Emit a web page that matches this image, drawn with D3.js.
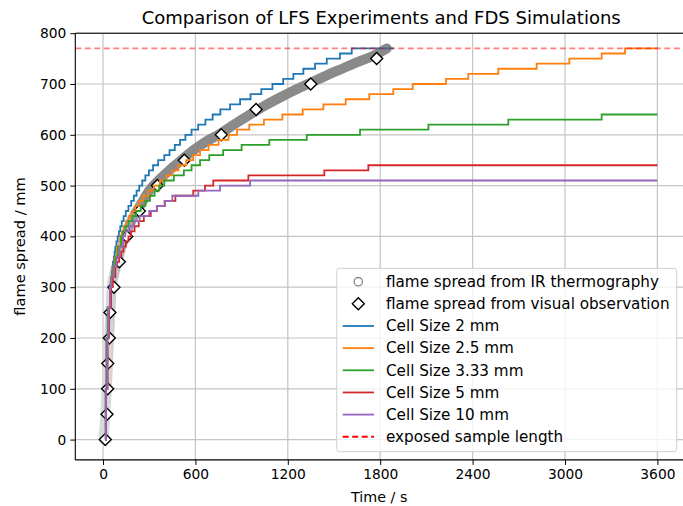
<!DOCTYPE html>
<html>
<head>
<meta charset="utf-8">
<script src="https://cdn.jsdelivr.net/npm/d3@7"></script>
<style>
  body { margin: 0; background: #fff; }
  text { font-family: "DejaVu Sans", sans-serif; }
</style>
</head>
<body>
<script>
var width = 683,
    height = 506;

// tick values
var xTicks = [0, 600, 1200, 1800, 2400, 3000, 3600];
var yTicks = [0, 100, 200, 300, 400, 500, 600, 700, 800];

// IR thermography (dense band)
var irTime = [3, 15, 24, 32, 39, 47, 56, 72, 93, 115, 143, 175, 210, 255, 300, 360, 430, 500, 580, 660, 760, 860, 960, 1060, 1160, 1260, 1360, 1460, 1560, 1660, 1760, 1842];
var irSpread = [0, 50, 100, 150, 200, 250, 300, 325, 350, 375, 400, 425, 445, 468, 490, 510, 530, 548, 568, 585, 602, 622, 641, 659, 675, 690, 704, 718, 731, 744, 756, 770];

// visual observation (diamonds)
var visTime = [15, 26, 30, 31, 41, 45, 71, 106, 154, 236, 353, 528, 768, 994, 1349, 1777];
var visSpread = [0, 50, 100, 150, 200, 250, 300, 350, 400, 450, 500, 550, 600, 650, 700, 750];

// FDS simulations: [time s, flame spread mm], drawn as steps
var cell2 = [[13,0],[17,100],[22,200],[30,260],[45,300],[49,310],[53,320],[57,330],[61,340],[65,350],[70,360],[75,370],[80,380],[87,390],
  [95,400],[103,410],[112,420],[122,430],[134,440],[148,450],[165,460],[183,470],[200,480],[218,490],[235,500],[255,510],[275,520],[298,530],
  [325,540],[358,550],[398,560],[432,570],[466,580],[500,590],[535,600],[575,610],[618,620],[665,630],[712,640],[762,650],[825,660],[890,670],
  [958,680],[1028,690],[1100,700],[1170,710],[1236,720],[1301,730],[1377,740],[1453,750],[1539,760],[1615,770],[1890,770]];
var cell25 = [[13,0],[18,100],[24,200],[33,260],[45,300],[52,320],[62,340],[75,360],[90,380],[112,400],[122,410],[135,420],[150,430],[167,440],
  [187,450],[210,460],[236,470],[262,480],[295,490],[330,500],[370,510],[410,520],[450,530],[490,540],[540,550],[585,560],[630,570],[685,580],
  [750,590],[815,600],[870,610],[950,620],[1045,630],[1165,640],[1297,650],[1431,660],[1576,670],[1729,680],[1885,690],[2011,700],[2227,710],
  [2372,720],[2567,730],[2816,740],[3028,750],[3238,760],[3390,770],[3600,770]];
var cell333 = [[13,0],[18,100],[25,200],[34,260],[45,300],[55,320],[66,340],[80,360],[97,380],[118,400],[130,410],[145,420],[165,430],[190,440],
  [215,450],[245,460],[275,470],[305,480],[335,490],[365,500],[398,510],[460,520],[525,530],[575,540],[630,550],[690,560],[780,570],[900,580],
  [1080,590],[1323,600],[1669,610],[2113,620],[2632,630],[3238,640],[3600,640]];
var cell5 = [[13,0],[20,100],[30,200],[40,260],[52,300],[64,320],[80,340],[92,350],[105,360],[118,370],[132,380],[148,390],[165,400],[182,410],
  [205,420],[232,430],[265,440],[310,450],[350,460],[400,470],[470,480],[586,490],[662,500],[716,510],[944,520],[1437,530],[1723,540],[3600,540]];
var cell10 = [[13,0],[19,100],[28,200],[36,260],[45,300],[55,320],[70,340],[88,360],[108,380],[130,400],[145,410],[170,420],[200,430],[238,440],
  [300,450],[349,460],[403,470],[450,480],[619,490],[760,500],[955,510],[3600,510]];

var simSeries = [cell2, cell25, cell333, cell5, cell10];
var simColors = ["#1f77b4", "#ff7f0e", "#2ca02c", "#d62728", "#9467bd"];
var sampleLength = 770;

var legendLabels = ["flame spread from IR thermography", "flame spread from visual observation",
  "Cell Size 2 mm", "Cell Size 2.5 mm", "Cell Size 3.33 mm", "Cell Size 5 mm", "Cell Size 10 mm", "exposed sample length"];

var svg = d3.select("body")
    .append("svg")
    .attr("width", width)
    .attr("height", height);

var x = d3.scaleLinear().domain([-180, 3780]).range([75.3, 685.1]);
var y = d3.scaleLinear().domain([-40, 800]).range([459.9, 33.2]);

var plotL = x.range()[0], plotR = x.range()[1], plotT = y.range()[1], plotB = y.range()[0];

svg.append("clipPath").attr("id", "clip")
  .append("rect").attr("x", plotL).attr("y", plotT).attr("width", plotR - plotL).attr("height", plotB - plotT);

// grid
var grid = svg.append("g");
grid.selectAll(".gx").data(xTicks).enter().append("line")
    .attr("x1", d => x(d)).attr("x2", d => x(d))
    .attr("y1", plotT).attr("y2", plotB)
    .attr("stroke", "#c4c4c4").attr("stroke-width", 1.2);
grid.selectAll(".gy").data(yTicks).enter().append("line")
    .attr("x1", plotL).attr("x2", plotR)
    .attr("y1", d => y(d)).attr("y2", d => y(d))
    .attr("stroke", "#c4c4c4").attr("stroke-width", 1.2);

var plot = svg.append("g").attr("clip-path", "url(#clip)");

// IR band: gradient from light (sparse start) to dark gray
var grad = svg.append("defs").append("linearGradient")
    .attr("id", "irgrad").attr("gradientUnits", "userSpaceOnUse")
    .attr("x1", x(40)).attr("x2", x(260)).attr("y1", 0).attr("y2", 0);
grad.append("stop").attr("offset", 0).attr("stop-color", "#d9d9d9");
grad.append("stop").attr("offset", 1).attr("stop-color", "#8a8a8a");

var irPts = irTime.map((t, i) => [t, irSpread[i]]);
plot.append("path")
    .attr("d", d3.line().x(d => x(d[0])).y(d => y(d[1])).curve(d3.curveMonotoneX)(irPts))
    .attr("fill", "none")
    .attr("stroke", "url(#irgrad)")
    .attr("stroke-width", 10)
    .attr("stroke-linecap", "round")
    .attr("stroke-linejoin", "round");

// diamonds
var diamond = "M0,-6L6,0L0,6L-6,0Z";
plot.selectAll(".vis").data(visTime.map((t, i) => [t, visSpread[i]])).enter().append("path")
    .attr("d", diamond)
    .attr("transform", d => "translate(" + x(d[0]) + "," + y(d[1]) + ")")
    .attr("fill", "#fff")
    .attr("stroke", "#000")
    .attr("stroke-width", 1.4);

// step lines
var stepLine = d3.line().x(d => x(d[0])).y(d => y(d[1])).curve(d3.curveStepAfter);
simSeries.forEach(function(s, i) {
  plot.append("path")
      .attr("d", stepLine(s))
      .attr("fill", "none")
      .attr("stroke", simColors[i])
      .attr("stroke-width", 1.8);
});

// exposed sample length
plot.append("line")
    .attr("x1", plotL).attr("x2", plotR)
    .attr("y1", y(sampleLength)).attr("y2", y(sampleLength))
    .attr("stroke", "#ff0000").attr("stroke-opacity", 0.5)
    .attr("stroke-width", 1.8).attr("stroke-dasharray", "6,3.5");

// axes
var xAxis = svg.append("g").attr("transform", "translate(0," + plotB + ")")
    .call(d3.axisBottom(x).tickValues(xTicks).tickFormat(d3.format("d")).tickSize(5).tickPadding(4));
var yAxis = svg.append("g").attr("transform", "translate(" + plotL + ",0)")
    .call(d3.axisLeft(y).tickValues(yTicks).tickFormat(d3.format("d")).tickSize(5).tickPadding(4));
[xAxis, yAxis].forEach(function(a) {
  a.selectAll("text").attr("font-size", 13.8).attr("fill", "#000").style("font-family", "DejaVu Sans");
  a.selectAll("line").attr("stroke", "#000").attr("stroke-width", 1);
  a.select(".domain").remove();
});
// spines
svg.append("line").attr("x1", plotL).attr("x2", plotL).attr("y1", plotT).attr("y2", plotB).attr("stroke", "#000").attr("stroke-width", 1.1);
svg.append("line").attr("x1", plotL).attr("x2", plotR).attr("y1", plotB).attr("y2", plotB).attr("stroke", "#000").attr("stroke-width", 1.1);
svg.append("line").attr("x1", plotL).attr("x2", plotR).attr("y1", plotT).attr("y2", plotT).attr("stroke", "#000").attr("stroke-width", 1.1);

// labels
svg.append("text").attr("x", (plotL + plotR) / 2 + 1).attr("y", 24)
    .attr("text-anchor", "middle").attr("font-size", 18)
    .text("Comparison of LFS Experiments and FDS Simulations");
svg.append("text").attr("x", (plotL + plotR) / 2 - 1).attr("y", 502)
    .attr("text-anchor", "middle").attr("font-size", 14.3)
    .text("Time / s");
svg.append("text").attr("transform", "translate(25," + (plotT + plotB) / 2 + ") rotate(-90)")
    .attr("text-anchor", "middle").attr("font-size", 14.6)
    .text("flame spread / mm");

// legend
var leg = svg.append("g");
leg.append("rect")
    .attr("x", 336.7).attr("y", 268.3).attr("width", 340).attr("height", 183.4)
    .attr("rx", 3).attr("fill", "#fff").attr("fill-opacity", 0.8)
    .attr("stroke", "#d0d0d0").attr("stroke-width", 1);
var rowH = 22.15, row0 = 281.7;
legendLabels.forEach(function(lab, i) {
  var cy = row0 + i * rowH;
  if (i === 0) {
    leg.append("circle").attr("cx", 358.3).attr("cy", cy).attr("r", 4.2)
        .attr("fill", "none").attr("stroke", "#8a8a8a").attr("stroke-width", 1.3);
  } else if (i === 1) {
    leg.append("path").attr("d", diamond).attr("transform", "translate(358.3," + cy + ")")
        .attr("fill", "#fff").attr("stroke", "#000").attr("stroke-width", 1.4);
  } else {
    leg.append("line").attr("x1", 342.7).attr("x2", 374).attr("y1", cy).attr("y2", cy)
        .attr("stroke", i === 7 ? "#ff0000" : simColors[i - 2]).attr("stroke-width", 1.8)
        .attr("stroke-dasharray", i === 7 ? "6,3.5" : null);
  }
  leg.append("text").attr("x", 386).attr("y", cy + 5.3).attr("font-size", 15.2).text(lab);
});
</script>
</body>
</html>
